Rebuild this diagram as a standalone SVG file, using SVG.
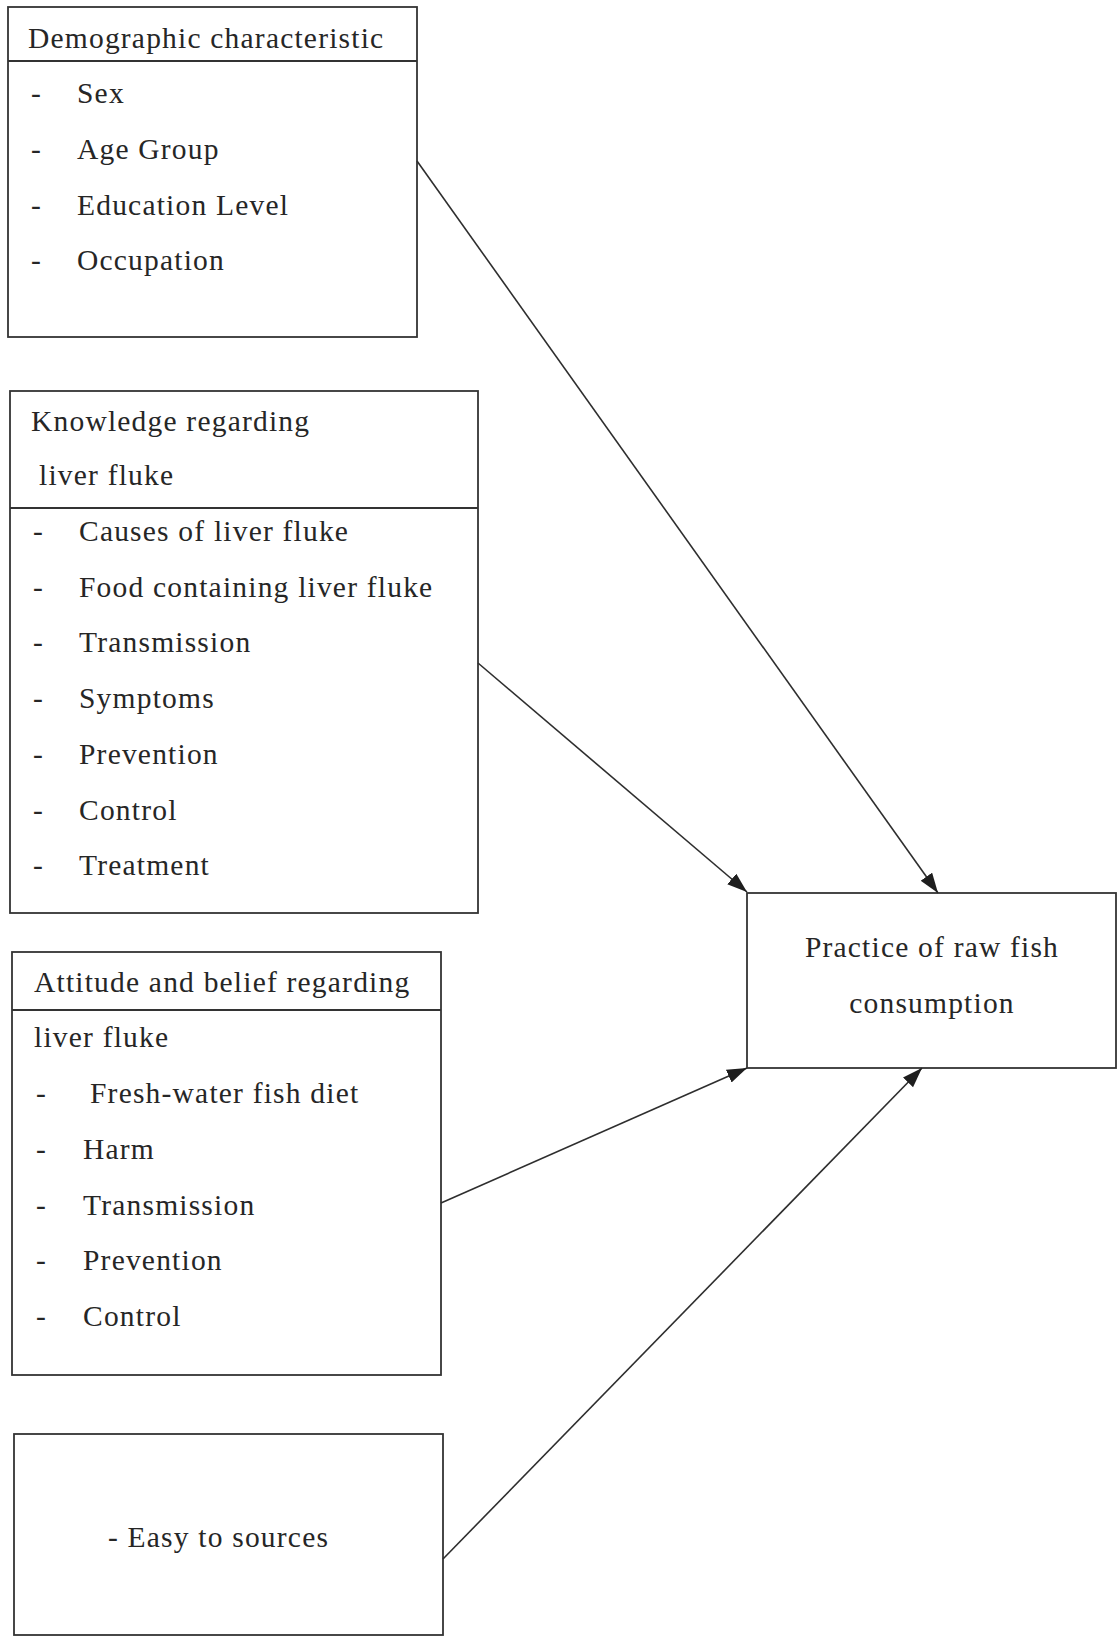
<svg xmlns="http://www.w3.org/2000/svg" width="1117" height="1636" viewBox="0 0 1117 1636">
  <style>
    .box { fill: #ffffff; stroke: #333333; stroke-width: 1.8; }
    .div { stroke: #333333; stroke-width: 1.8; fill: none; }
    .t { font-family: "Liberation Serif", "Times New Roman", serif; font-size: 29.5px; letter-spacing: 1.2px; fill: #262626; }
    .conn { stroke: #2e2e2e; stroke-width: 1.6; fill: none; marker-end: url(#arrow); }
  </style>
  <defs>
    <marker id="arrow" markerUnits="userSpaceOnUse" markerWidth="22" markerHeight="16" refX="20" refY="7" orient="auto">
      <path d="M0,0 L20,7 L0,14 z" fill="#1e1e1e"/>
    </marker>
  </defs>
  <rect width="1117" height="1636" fill="#ffffff"/>

  <g id="demographic">
    <rect class="box" x="8" y="7" width="409" height="330"/>
    <line class="div" x1="8" y1="61" x2="417" y2="61"/>
    <text class="t" x="28" y="48">Demographic characteristic</text>
    <text class="t" x="31" y="103">-</text><text class="t" x="77" y="103">Sex</text>
    <text class="t" x="31" y="159">-</text><text class="t" x="77" y="159">Age Group</text>
    <text class="t" x="31" y="215">-</text><text class="t" x="77" y="215">Education Level</text>
    <text class="t" x="31" y="270">-</text><text class="t" x="77" y="270">Occupation</text>
  </g>

  <g id="knowledge">
    <rect class="box" x="10" y="391" width="468" height="522"/>
    <line class="div" x1="10" y1="508" x2="478" y2="508"/>
    <text class="t" x="31" y="431">Knowledge regarding</text>
    <text class="t" x="39" y="485">liver fluke</text>
    <text class="t" x="33" y="541">-</text><text class="t" x="79" y="541">Causes of liver fluke</text>
    <text class="t" x="33" y="597">-</text><text class="t" x="79" y="597">Food containing liver fluke</text>
    <text class="t" x="33" y="652">-</text><text class="t" x="79" y="652">Transmission</text>
    <text class="t" x="33" y="708">-</text><text class="t" x="79" y="708">Symptoms</text>
    <text class="t" x="33" y="764">-</text><text class="t" x="79" y="764">Prevention</text>
    <text class="t" x="33" y="820">-</text><text class="t" x="79" y="820">Control</text>
    <text class="t" x="33" y="875">-</text><text class="t" x="79" y="875">Treatment</text>
  </g>

  <g id="attitude">
    <rect class="box" x="12" y="952" width="429" height="423"/>
    <line class="div" x1="12" y1="1010" x2="441" y2="1010"/>
    <text class="t" x="34" y="992">Attitude and belief regarding</text>
    <text class="t" x="34" y="1047">liver fluke</text>
    <text class="t" x="36" y="1103">-</text><text class="t" x="90" y="1103">Fresh-water fish diet</text>
    <text class="t" x="36" y="1159">-</text><text class="t" x="83" y="1159">Harm</text>
    <text class="t" x="36" y="1215">-</text><text class="t" x="83" y="1215">Transmission</text>
    <text class="t" x="36" y="1270">-</text><text class="t" x="83" y="1270">Prevention</text>
    <text class="t" x="36" y="1326">-</text><text class="t" x="83" y="1326">Control</text>
  </g>

  <g id="sources">
    <rect class="box" x="14" y="1434" width="429" height="201"/>
    <text class="t" x="108" y="1547">- Easy to sources</text>
  </g>

  <g id="practice">
    <rect class="box" x="747" y="893" width="369" height="175"/>
    <text class="t" x="932" y="957" text-anchor="middle">Practice of raw fish</text>
    <text class="t" x="932" y="1013" text-anchor="middle">consumption</text>
  </g>

  <g id="connectors">
    <line class="conn" x1="417" y1="161" x2="938" y2="893"/>
    <line class="conn" x1="478" y1="663" x2="747" y2="892"/>
    <line class="conn" x1="441" y1="1203" x2="747" y2="1068"/>
    <line class="conn" x1="443" y1="1559" x2="922" y2="1068"/>
  </g>
</svg>
